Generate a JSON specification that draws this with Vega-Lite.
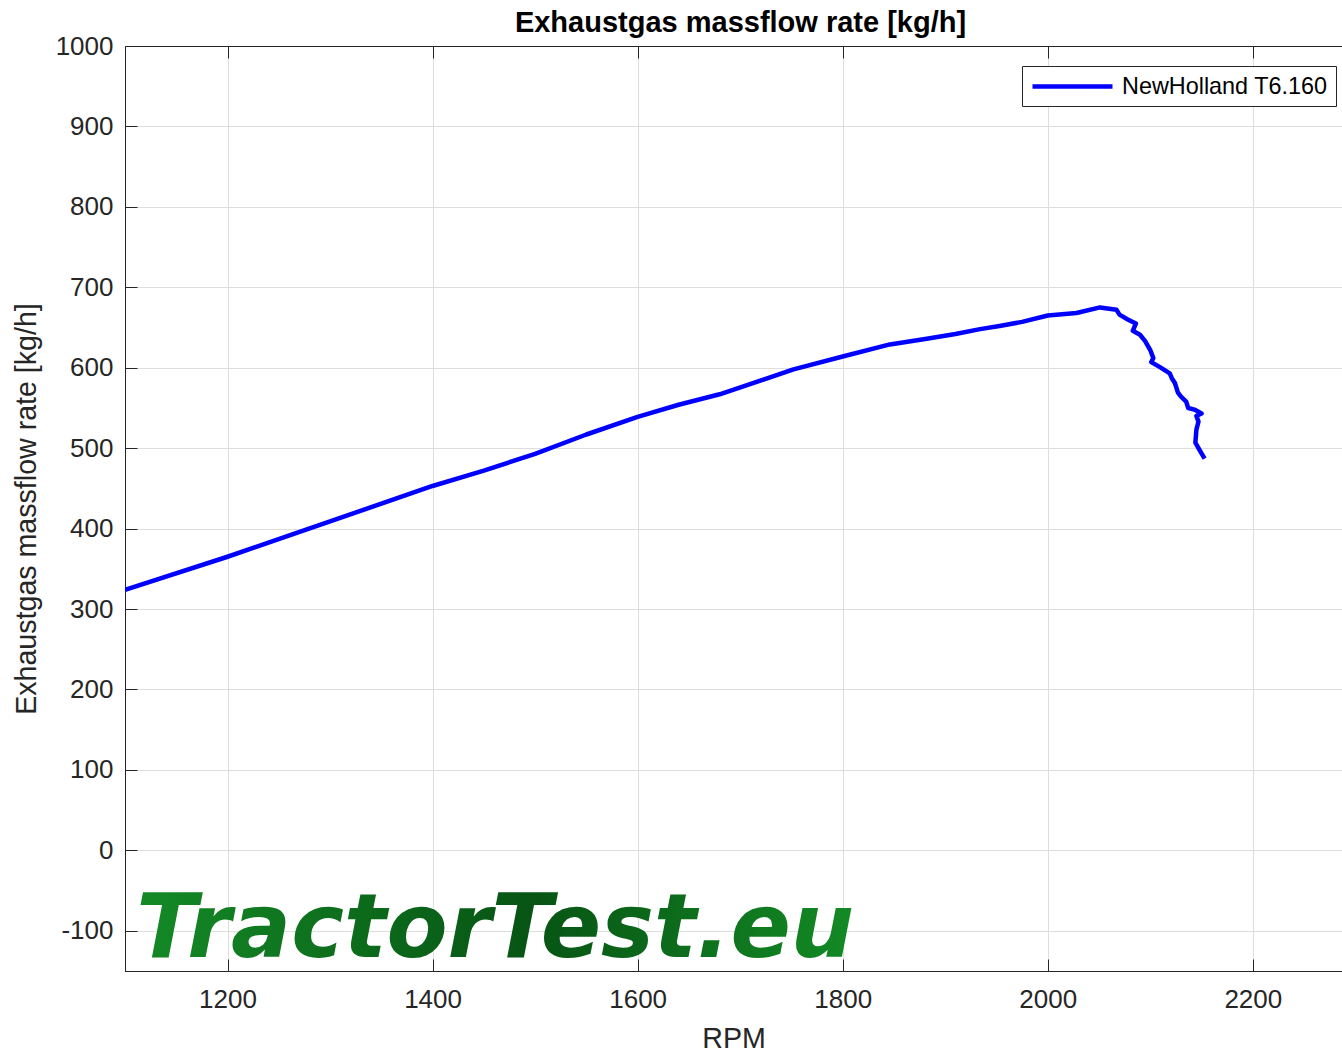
{
  "$schema": "https://vega.github.io/schema/vega-lite/v6.json",
  "width": 1217,
  "height": 925,
  "autosize": {"type": "none"},
  "padding": {"left": 125, "top": 46, "right": 0, "bottom": 85},
  "background": "white",
  "config": {
    "font": "Liberation Sans",
    "view": {"stroke": "#262626", "strokeWidth": 1},
    "axis": {
      "labelFont": "Liberation Sans",
      "labelFontSize": 26,
      "labelColor": "#262626",
      "titleFont": "Liberation Sans",
      "titleFontSize": 28.6,
      "titleFontWeight": "normal",
      "titleColor": "#262626",
      "domainColor": "#262626",
      "tickColor": "#262626",
      "gridColor": "#dedede",
      "gridWidth": 1
    }
  },
  "title": {
    "text": "Exhaustgas massflow rate [kg/h]",
    "font": "Liberation Sans",
    "fontSize": 29,
    "fontWeight": "bold",
    "color": "#000000",
    "anchor": "middle",
    "dx": 7,
    "offset": -5
  },
  "layer": [
    {
      "data": {
        "values": [
          {"rpm": 1100, "flow": 324},
          {"rpm": 1200, "flow": 365},
          {"rpm": 1300, "flow": 409},
          {"rpm": 1400, "flow": 453},
          {"rpm": 1450, "flow": 472},
          {"rpm": 1500, "flow": 493},
          {"rpm": 1550, "flow": 517},
          {"rpm": 1600, "flow": 539},
          {"rpm": 1640, "flow": 554},
          {"rpm": 1680, "flow": 567},
          {"rpm": 1706, "flow": 578},
          {"rpm": 1752, "flow": 598},
          {"rpm": 1800, "flow": 614},
          {"rpm": 1846, "flow": 629},
          {"rpm": 1882, "flow": 636},
          {"rpm": 1910, "flow": 642},
          {"rpm": 1934, "flow": 648},
          {"rpm": 1953, "flow": 652},
          {"rpm": 1975, "flow": 657},
          {"rpm": 2000, "flow": 665},
          {"rpm": 2028, "flow": 668},
          {"rpm": 2051, "flow": 675},
          {"rpm": 2067, "flow": 672},
          {"rpm": 2070, "flow": 666},
          {"rpm": 2078, "flow": 660},
          {"rpm": 2086, "flow": 655},
          {"rpm": 2083, "flow": 646},
          {"rpm": 2090, "flow": 641},
          {"rpm": 2095, "flow": 633},
          {"rpm": 2100, "flow": 622},
          {"rpm": 2103, "flow": 612},
          {"rpm": 2101, "flow": 607},
          {"rpm": 2109, "flow": 601},
          {"rpm": 2119, "flow": 593},
          {"rpm": 2121, "flow": 587},
          {"rpm": 2124, "flow": 581},
          {"rpm": 2127, "flow": 569},
          {"rpm": 2130, "flow": 564},
          {"rpm": 2135, "flow": 558},
          {"rpm": 2137, "flow": 550},
          {"rpm": 2143, "flow": 548},
          {"rpm": 2150, "flow": 543},
          {"rpm": 2145, "flow": 540},
          {"rpm": 2147, "flow": 533},
          {"rpm": 2145, "flow": 523},
          {"rpm": 2144, "flow": 507},
          {"rpm": 2148, "flow": 498},
          {"rpm": 2153, "flow": 487}
        ]
      },
      "mark": {"type": "line", "strokeWidth": 4.5, "strokeJoin": "round", "clip": true},
      "encoding": {
        "x": {
          "field": "rpm",
          "type": "quantitative",
          "scale": {"domain": [1100, 2287], "nice": false, "zero": false},
          "axis": {
            "orient": "bottom",
            "title": "RPM",
            "values": [1200, 1400, 1600, 1800, 2000, 2200],
            "labelExpr": "'' + datum.value",
            "tickSize": -12,
            "labelPadding": 27,
            "titlePadding": 12,
            "grid": true
          }
        },
        "y": {
          "field": "flow",
          "type": "quantitative",
          "scale": {"domain": [-150, 1000], "nice": false, "zero": false},
          "axis": {
            "title": "Exhaustgas massflow rate [kg/h]",
            "values": [-100, 0, 100, 200, 300, 400, 500, 600, 700, 800, 900, 1000],
            "labelExpr": "'' + datum.value",
            "tickSize": -12,
            "labelPadding": 24,
            "titlePadding": 14,
            "grid": true
          }
        },
        "order": {"value": null},
        "color": {
          "datum": "NewHolland T6.160",
          "type": "nominal",
          "scale": {"range": ["#0000ff"]},
          "legend": {
            "title": null,
            "orient": "none",
            "legendX": 897,
            "legendY": 20,
            "symbolType": "M-1,0H7",
            "symbolSize": 400,
            "symbolStrokeWidth": 4.5,
            "labelFont": "Liberation Sans",
            "labelFontSize": 23.4,
            "labelColor": "#000000",
            "labelOffset": 67,
            "labelLimit": 0,
            "strokeColor": "#262626",
            "fillColor": "white",
            "padding": 8
          }
        }
      }
    },
    {
      "data": {"values": [{"label": "TractorTest.eu"}]},
      "mark": {
        "type": "text",
        "font": "DejaVu Sans",
        "fontWeight": "bold",
        "fontStyle": "italic",
        "fontSize": 89,
        "align": "left",
        "baseline": "alphabetic",
        "color": {
          "gradient": "linear",
          "x1": 0, "y1": 0, "x2": 1, "y2": 0,
          "stops": [
            {"offset": 0, "color": "#148a26"},
            {"offset": 0.55, "color": "#075414"},
            {"offset": 1, "color": "#138a25"}
          ]
        }
      },
      "encoding": {
        "x": {
          "datum": 1111,
          "type": "quantitative",
          "axis": {
            "orient": "top",
            "values": [1200, 1400, 1600, 1800, 2000, 2200],
            "labels": false,
            "title": null,
            "grid": false,
            "tickSize": -12,
            "domain": true
          }
        },
        "y": {"datum": -132, "type": "quantitative", "axis": null},
        "text": {"field": "label"}
      }
    }
  ],
  "resolve": {"axis": {"x": "independent", "y": "independent"}}
}
